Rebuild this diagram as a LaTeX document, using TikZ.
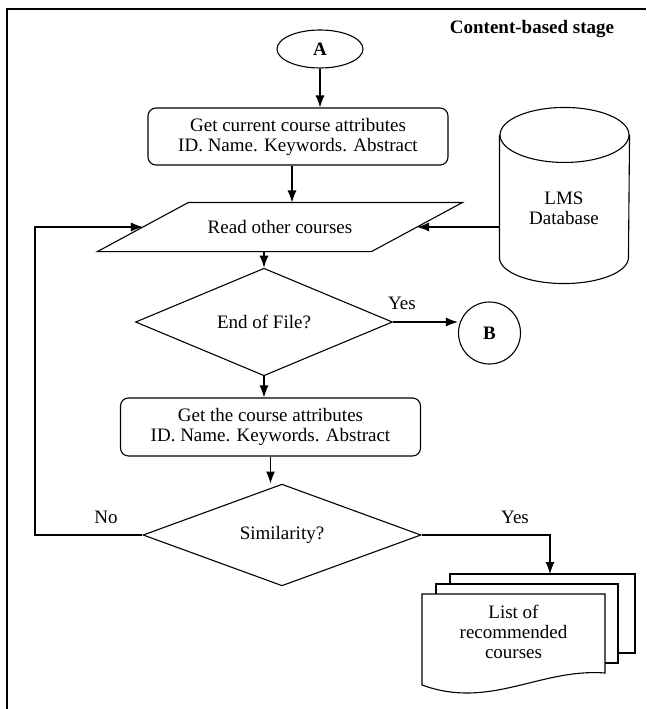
\documentclass[tikz,border=0pt]{standalone}
\usepackage{fontspec}
\setmainfont{Liberation Serif}
\usetikzlibrary{shapes.geometric,arrows.meta}
\tikzset{
  every node/.style={font=\fontsize{19}{20}\selectfont},
  flow/.style={line width=1.1pt},
  term/.style={draw, ellipse, minimum width=86pt, minimum height=38pt, inner sep=0pt, font=\fontsize{19}{20}\selectfont\bfseries},
  conn/.style={draw, circle, minimum size=62pt, inner sep=0pt, font=\fontsize{19}{20}\selectfont\bfseries},
  procbox/.style={draw, rounded corners=8pt, align=center, inner sep=0pt},
  iobox/.style={minimum width=364pt, minimum height=48pt, inner sep=0pt},
  decide/.style={draw, diamond, inner sep=0pt},
  store/.style={minimum width=129pt, minimum height=175pt, inner sep=0pt},
  page/.style={draw, fill=white, inner sep=0pt}
}
\begin{document}
\begin{tikzpicture}[x=1pt, y=-1pt, flow, >={Latex[length=12pt,width=9pt]}]
      \useasboundingbox (0,0) rectangle (646,709);
      \draw[line width=1.5pt] (7,709) -- (7,9) -- (646,9);
      \draw
        (532,29) node[font=\fontsize{19}{20}\selectfont\bfseries] (title){Content-based stage}
        (320,49) node[term] (A){A}
        (298,136.5) node[procbox, minimum width=300pt, minimum height=57pt] (get1){Get current course attributes\\ID. Name. Keywords. Abstract}
        (280,227) node[iobox] (read){Read other courses}
        (564.5,195.5) node[store] (db){}
        (564,208.5) node[align=center] (dbname){LMS\\Database}
        (264,322) node[decide, minimum width=257pt, minimum height=76pt] (d1){End of File?}
        (489.5,333) node[conn] (B){B}
        (270.5,427) node[procbox, minimum width=300pt, minimum height=58pt] (get2){Get the course attributes\\ID. Name. Keywords. Abstract}
        (282,535) node[decide, minimum width=278pt, minimum height=78pt] (d2){Similarity?}
        (402,303) node (yes1){Yes}
        (106,517) node (no){No}
        (515,517) node (yes2){Yes};
      % parallelogram and cylinder outlines
      \draw (read.south west) -- ([xshift=91pt]read.north west) -- (read.north east)
        -- ([xshift=-91pt]read.south east) -- cycle;
      \draw ([yshift=-27.5pt]db.north west) -- ([yshift=26pt]db.south west)
        arc[start angle=180, end angle=360, x radius=64.5pt, y radius=26pt]
        -- ([yshift=-27.5pt]db.north east);
      \draw ([yshift=-27.5pt]db.north) ellipse[x radius=64.5pt, y radius=27.5pt];
      % stack of pages
      \draw
        (542.5,613.5) node[page, minimum width=185pt, minimum height=79pt] (back){}
        (527,623.5) node[page, minimum width=182pt, minimum height=79pt] (mid){};
      \draw[fill=white] (422,594) -- (605,594) -- (605,673)
        .. controls (540,668) and (490,710) .. (422,685) -- cycle;
      \draw (513.5,632) node[align=center] (list){List of\\recommended\\courses};
      \coordinate (stacktop) at (550,574);
      \coordinate (loop) at (35,0);
      \begin{scope}[->]
        \draw (A.south) to (A.south |- get1.north);
        \draw ([xshift=-6pt]get1.south) to ([xshift=-6pt]get1.south |- read.north);
        \draw (d1.north |- read.south) to (d1.north);
        \draw (d1.south) to (d1.south |- get2.north);
        \draw (get2.south) to (get2.south |- d2.north);
        \draw (d1.east) to (d1.east -| B.west);
        \draw (read.east -| db.west) to ([xshift=-45.5pt]read.east);
        \draw (d2.west) -- (d2.west -| loop) |- ([xshift=45.5pt]read.west);
        \draw (d2.east) -| (stacktop);
      \end{scope}
    \end{tikzpicture}
\end{document}
